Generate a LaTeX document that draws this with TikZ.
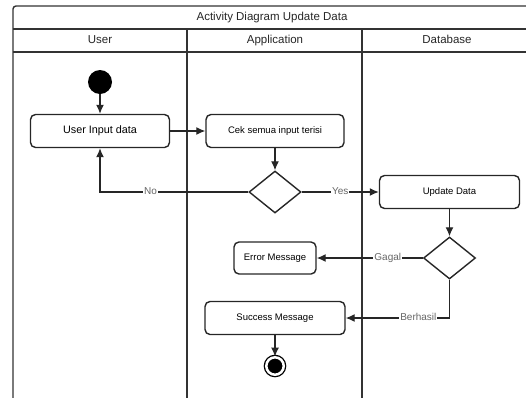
\documentclass[tikz,border=0pt]{standalone}
\usepackage{fontspec}
\setmainfont{Liberation Sans}
\usetikzlibrary{arrows,arrows.meta,shapes.geometric,positioning}
\begin{document}
\begin{tikzpicture}[x=1pt,y=-1pt] % one unit is one pixel of the sketch, y grows downwards
\tikzset{every node/.style={font=\fontsize{9.5}{11}\selectfont,text height=0.75em,text depth=0.2em}}
\tikzset{activity/.style={draw,rectangle,rounded corners=5pt,line width=1.4pt,draw=black!85,minimum height=33pt,align=center}}
\tikzset{decision/.style={draw,diamond,line width=1.4pt,draw=black!85,minimum width=52pt,minimum height=42pt,inner sep=0pt}}
\tikzset{flow/.style={-{Latex[length=9pt,width=8pt]},line width=1.3pt,draw=black!85}}
\tikzset{guard/.style={fill=white,text=black!60,inner sep=1pt,font=\fontsize{10}{11}\selectfont}}
\tikzset{lane/.style={line width=1.4pt,draw=black!80}}
\tikzset{heading/.style={font=\fontsize{11.5}{13}\selectfont,text=black!85}}
\useasboundingbox (0,0) rectangle (526,397);
% swimlane frame
\draw[lane,rounded corners=3pt] (13,400) |- (545,6);
\draw[lane] (13,29) -- (545,29);
\draw[lane] (13,52) -- (545,52);
\draw[lane] (187,29) -- (187,400);
\draw[lane] (362,29) -- (362,400);
\node[heading] (title) at (272,17.5) {Activity Diagram Update Data};
\node[heading] (user) at (100,40.5) {User};
\node[heading] (app) at (275,40.5) {Application};
\node[heading] (db) at (447,40.5) {Database};
% activities
\node[circle,fill,minimum size=24pt] (start) at (100,82) {};
\node[activity,minimum width=139pt,font=\fontsize{10.8}{12}\selectfont] (input) at (100,131) {User Input data};
\node[activity,minimum width=138pt] (cek) at (275,131) {Cek semua input terisi};
\node[decision] (cekok) at (275,192) {};
\node[activity,minimum width=140pt] (update) at (449.5,192) {Update Data};
\node[decision] (updok) at (449.5,258) {};
\node[activity,minimum width=82pt,minimum height=32pt] (error) at (275,258) {Error Message};
\node[activity,minimum width=140pt] (success) at (275,318) {Success Message};
\node[circle,fill,draw,line width=1.3pt,double=white,double distance=2.5pt,minimum size=15pt] (stop) at (275,366) {};
% flows
\draw[flow] (start) -- (input);
\draw[flow] (input) -- (cek);
\draw[flow] (cek) -- (cekok);
\draw[flow] (cekok.west) -| node[guard,pos=0.33]{No} (input.south);
\draw[flow] (cekok) -- node[guard]{Yes} (update);
\draw[flow] (update) -- (updok);
\draw[flow] (updok) -- node[guard,pos=0.33]{Gagal} (error);
\draw[flow] (updok.south) |- node[guard,pos=0.65]{Berhasil} (success);
\draw[flow] (success) -- (stop);
\end{tikzpicture}
\end{document}
